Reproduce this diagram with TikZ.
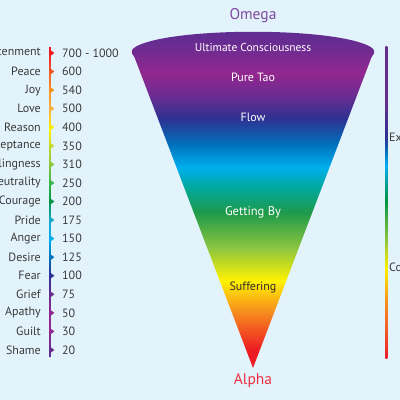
\documentclass[tikz,border=0pt]{standalone}
\usepackage{fontspec}
\setmainfont{PT Sans}
\definecolor{bg}{HTML}{E3F3FC}
\definecolor{txt}{HTML}{3A3A3A}
\definecolor{omegac}{HTML}{7F4BA0}
\definecolor{alphac}{HTML}{EE3042}
% cone colours
\definecolor{cA}{HTML}{ED1C24}
\definecolor{cB}{HTML}{F7941D}
\definecolor{cC}{HTML}{FFF200}
\definecolor{cD}{HTML}{8DC63F}
\definecolor{cE}{HTML}{1E9A4A}
\definecolor{cF}{HTML}{00A99D}
\definecolor{cG}{HTML}{00AEEF}
\definecolor{cH}{HTML}{0072BC}
\definecolor{cI}{HTML}{2E3192}
\definecolor{cJ}{HTML}{6A2C91}
\definecolor{cK}{HTML}{92278F}
\definecolor{cL}{HTML}{5C2D91}
% bar colours
\definecolor{bA}{HTML}{ED1C24}
\definecolor{bB}{HTML}{F15A29}
\definecolor{bC}{HTML}{F7941D}
\definecolor{bD}{HTML}{FBB040}
\definecolor{bE}{HTML}{FFF200}
\definecolor{bF}{HTML}{C4D82E}
\definecolor{bG}{HTML}{8DC63F}
\definecolor{bH}{HTML}{39B54A}
\definecolor{bI}{HTML}{009444}
\definecolor{bJ}{HTML}{1BA9C9}
\definecolor{bK}{HTML}{00AEEF}
\definecolor{bL}{HTML}{0072BC}
\definecolor{bM}{HTML}{2E3192}
\definecolor{bN}{HTML}{662D91}
\definecolor{bO}{HTML}{92278F}
\pgfdeclareverticalshading{coneshade}{100bp}{%
 color(0bp)=(cA); color(25bp)=(cA); color(27.68bp)=(cA); color(33.63bp)=(cB);
 color(37.8bp)=(cC); color(42.56bp)=(cD); color(47.77bp)=(cE); color(51.49bp)=(cF);
 color(54.46bp)=(cG); color(57.74bp)=(cH); color(61.61bp)=(cI); color(64.88bp)=(cJ);
 color(68.15bp)=(cK); color(72.32bp)=(cJ); color(75bp)=(cL); color(100bp)=(cL)}
\pgfdeclareverticalshading{leftbar}{100bp}{%
 color(0bp)=(bN); color(25bp)=(bN); color(26.13bp)=(bN); color(29.19bp)=(bO);
 color(32.1bp)=(bO); color(35.16bp)=(bN); color(38.06bp)=(bM); color(41.13bp)=(bL);
 color(44.03bp)=(bK); color(47.1bp)=(bJ); color(50.16bp)=(bI); color(53.06bp)=(bH);
 color(56.13bp)=(bG); color(59.03bp)=(bF); color(61.77bp)=(bE); color(65bp)=(bD);
 color(68.06bp)=(bC); color(71bp)=(bB); color(74.03bp)=(bA); color(75bp)=(bA); color(100bp)=(bA)}
\pgfdeclareverticalshading{rightbar}{100bp}{%
 color(0bp)=(bA); color(25bp)=(bA); color(29.49bp)=(bB); color(34.29bp)=(bC);
 color(39.42bp)=(bE); color(43.91bp)=(bG); color(50.32bp)=(bI); color(55.93bp)=(bK);
 color(58bp)=(bL); color(60.26bp)=(bM); color(66.35bp)=(bN); color(75bp)=(bN); color(100bp)=(bN)}
\tikzset{
 lvl/.style={anchor=east, inner sep=0pt, text=txt, font=\fontsize{12}{14}\selectfont},
 val/.style={anchor=west, inner sep=0pt, text=txt, font=\fontsize{12}{14}\selectfont},
 conetxt/.style={inner sep=0pt, text=white, font=\fontsize{12}{14}\selectfont},
 endtxt/.style={inner sep=0pt, font=\fontsize{15.5}{17}\selectfont},
 sidetxt/.style={anchor=west, inner sep=0pt, text=txt, font=\fontsize{12}{14}\selectfont}
}
\begin{document}
\begin{tikzpicture}[x=1pt,y=-1pt]
\useasboundingbox (0,0) rectangle (400,400);
\clip (0,0) rectangle (400,400);
\fill[bg] (0,0) rectangle (400,400);
% cone
\shade[shading=coneshade] (134.4,57) .. controls (130,52) and (131,49) .. (137,46)
  .. controls (175,27) and (331,27) .. (369,46)
  .. controls (375,49) and (376,52) .. (371.6,57) -- (253,368) -- cycle;
\node[endtxt, text=omegac] (omega) at (253,16) {Omega};
\node[endtxt, text=alphac] (alpha) at (253,381) {Alpha};
\node[conetxt, font=\fontsize{11.5}{13}\selectfont] (uc) at (253,47) {Ultimate Consciousness};
\node[conetxt] (tao) at (253,77) {Pure Tao};
\node[conetxt] (flow) at (253,117) {Flow};
\node[conetxt, font=\fontsize{12.5}{14}\selectfont] (gb) at (253,212) {Getting By};
\node[conetxt, text=txt!80!black] (suf) at (253,287) {Suffering};
% left scale bar with ticks
\shade[shading=leftbar] (49.2,47) rectangle (50.8,357)
  foreach \i in {0,...,16} { (50.8,53+18.5625*\i-2.7) -- (54.4,53+18.5625*\i) -- (50.8,53+18.5625*\i+2.7) -- cycle };
\foreach \t/\v [count=\i from 0] in {Enlightenment/700 - 1000, Peace/600, Joy/540, Love/500,
  Reason/400, Acceptance/350, Willingness/310, Neutrality/250, Courage/200, Pride/175,
  Anger/150, Desire/125, Fear/100, Grief/75, Apathy/50, Guilt/30, Shame/20} {
  \node[lvl] (l\i) at (41,53+18.5625*\i) {\t};
  \node[val] (n\i) at (62,53+18.5625*\i) {\v};
}
% right bar
\shade[shading=rightbar] (385.3,46) rectangle (387.3,358);
\node[sidetxt] (exp) at (389,138) {Expansion};
\node[sidetxt] (con) at (389,267) {Contraction};
\end{tikzpicture}
\end{document}
